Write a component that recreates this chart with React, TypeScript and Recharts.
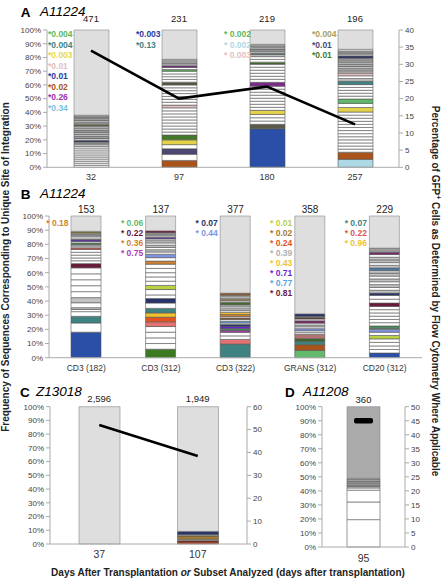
import React from 'react'
import { ComposedChart, Bar, Line, XAxis, YAxis, Cell } from 'recharts'

type Seg = [number, string]
type Note = [string, string]

const FONT = '"Liberation Sans", Arial, Helvetica, sans-serif'

// colour of each integration-site clone
const CLONE: Record<string, string> = {
  w: '#ffffff', G: '#dedede', Gd: '#ababab', g1: '#c2c2c2', g2: '#9c9c9c', g3: '#8c8c8c', g4: '#b0b0b0',
  nv: '#27336a', nv2: '#2a3a9a', og: '#5b6b33', br: '#a9541a', sl: '#4c4873', ye: '#e3d34a', gr: '#437a2a',
  pk: '#e2c0c0', ol: '#55573c', lg: '#5cb85c', pu: '#7b2a8a', bl: '#2b4fa6', dk: '#5b5a48', dg: '#3f6a2a',
  tl: '#3f8282', lb: '#add8e6', lb2: '#7ec0e0', lg2: '#62b86c', mr: '#6a1a3a', rd: '#c65a50', rd2: '#e05555',
  gm: '#4d8d5d', vi: '#5a3a9a', ok: '#8a7a2a', dg2: '#3b7a20', sa: '#e57373', or: '#e4531e', yo: '#f2c230',
  yg: '#bcd043', ob: '#d3822f', pw: '#8192e2', mg: '#b03ab0', mg2: '#a030b0', vi2: '#6a2ad0', sk: '#5aa2e2',
  bw: '#8a5a30', kh: '#a08860', kh2: '#a8a060', pb: '#b37474', bd: '#5a3a2a', mp: '#7a2a6a', st: '#4a82b2',
  rr: '#c43512', dr: '#7e2410', kt: '#a37a32', ye2: '#e8d84a',
}

const PCT_TICKS = [0, 10, 20, 30, 40, 50, 60, 70, 80, 90, 100]

// A – A11224, days after transplantation
const A_DAYS = ['32', '97', '180', '257']
const A_TOTALS = ['471', '231', '219', '196']
const A_GFP = [34, 20, 23.5, 12.5]
const A_GFP_TICKS = [0, 5, 10, 15, 20, 25, 30, 35, 40]
const A_SEGS: Seg[][] = [
  [[1.5, 'w'], [1.5, 'w'], [1.5, 'w'], [1.5, 'w'], [1.5, 'w'], [1.5, 'w'], [1.5, 'w'], [1.5, 'w'], [1.5, 'w'], [1.5, 'w'],
    [2, 'g1'], [1.5, 'g2'], [1, 'nv'], [1.5, 'g1'], [1.5, 'g2'], [1.5, 'g1'], [1.5, 'g1'], [1.5, 'g2'], [1.5, 'g1'], [1.5, 'g1'],
    [1, 'og'], [1.5, 'g2'], [1.5, 'g1'], [2, 'g2'], [2, 'g3']],
  [[5, 'br'], [4.5, 'w'], [4, 'sl'], [3, 'w'], [3.5, 'ye'], [3.5, 'gr'],
    [2.2, 'w'], [2.2, 'w'], [2.2, 'w'], [2.2, 'w'], [2.2, 'w'], [2.2, 'w'], [2.2, 'w'], [2.2, 'w'], [2.2, 'w'],
    [2, 'pk'], [2.1, 'w'], [2.1, 'w'], [2.1, 'w'], [2.1, 'w'], [2.1, 'w'], [2.1, 'w'], [2.1, 'w'],
    [2, 'ol'], [2, 'w'], [2, 'w'], [2, 'w'], [2, 'w'], [1.2, 'lg'], [1.5, 'w'], [1.2, 'pu'], [1.5, 'g1'], [3.3, 'g2']],
  [[28, 'bl'], [3.3, 'dk'], [2.4, 'w'], [2.4, 'w'], [2.4, 'w'], [3, 'ye'],
    [2.2, 'w'], [2.2, 'w'], [2.2, 'w'], [2.2, 'w'], [2.2, 'w'], [2.2, 'w'], [2.2, 'w'], [2.2, 'w'],
    [2.8, 'pu'], [2.2, 'w'], [2.2, 'w'], [2.2, 'w'], [2.2, 'w'], [2.2, 'w'], [2.2, 'w'],
    [1.5, 'dg'], [2, 'w'], [2, 'w'], [1.5, 'g1'], [1, 'tl'], [1.5, 'g1'], [1.5, 'g2'], [1.5, 'g1'], [2, 'g2']],
  [[5.8, 'lb'], [5.2, 'br'],
    [2.25, 'w'], [2.25, 'w'], [2.25, 'w'], [2.25, 'w'], [2.25, 'w'], [2.25, 'w'], [2.25, 'w'], [2.25, 'w'], [2.25, 'w'],
    [2.25, 'w'], [2.25, 'w'], [2.25, 'w'], [2.25, 'w'],
    [3.3, 'ye'], [3, 'w'], [3.2, 'lg2'], [2.1, 'w'], [2.1, 'w'], [2.1, 'w'], [2.1, 'w'], [2.1, 'w'],
    [2.4, 'tl'], [2, 'g1'], [2, 'w'], [2, 'pk'], [1.6, 'g1'], [1.6, 'g4'], [1.6, 'g1'], [1.6, 'g4'], [1.6, 'g1'], [1.6, 'g4'],
    [1.25, 'g1'], [1.5, 'nv'], [1.6, 'g1'], [1.6, 'g2'], [1.8, 'g1']],
]
const A_NOTES: Note[][] = [
  [['*0.004', 'lg'], ['*0.004', 'tl'], ['*0.003', 'ye2'], ['*0.01', 'pk'], ['*0.01', 'nv2'], ['*0.02', 'br'], ['*0.26', 'mg2'], ['*0.34', 'lb2']],
  [['*0.003', 'nv2'], ['*0.13', 'tl']],
  [['* 0.002', 'lg'], ['* 0.002', 'lb'], ['* 0.003', 'pk']],
  [['*0.004', 'kh2'], ['*0.01', 'sl'], ['*0.01', 'gr']],
]

// B – A11224, sorted subsets
const B_SUBSETS = ['CD3 (182)', 'CD3 (312)', 'CD3 (322)', 'GRANS (312)', 'CD20 (312)']
const B_TOTALS = ['153', '137', '377', '358', '229']
const B_SEGS: Seg[][] = [
  [[18, 'bl'], [6.5, 'w'], [4.7, 'tl'], [3.3, 'w'], [1.5, 'w'], [1.3, 'g1'], [3.5, 'w'], [3.6, 'g1'],
    [4.2, 'w'], [4.2, 'w'], [4.2, 'w'], [4.2, 'w'], [4.2, 'w'], [3, 'mr'], [2, 'w'], [2, 'w'], [2, 'w'], [2, 'w'], [2, 'w'],
    [1.2, 'rd'], [1.2, 'w'], [1, 'g1'], [1.2, 'gm'], [1, 'w'], [1.5, 'vi'], [2.4, 'g1'], [1.5, 'g2'], [0.6, 'w'], [1.2, 'ok']],
  [[6, 'dg2'], [4, 'w'], [4, 'w'], [4, 'w'], [4, 'w'], [3.3, 'sa'], [3.3, 'or'], [3, 'yo'], [3.2, 'tl'], [3.8, 'w'],
    [3.2, 'nv'], [2.5, 'w'], [3.8, 'w'], [2.9, 'yg'], [3, 'w'], [3, 'w'], [3, 'w'], [3, 'w'], [3, 'w'], [2.2, 'ob'], [2.4, 'w'],
    [2.4, 'pw'], [1.6, 'w'], [1.6, 'g1'], [1.6, 'w'], [1.6, 'g1'], [1.6, 'w'], [1.6, 'g1'], [1.2, 'w'], [1.2, 'vi'],
    [1.6, 'g1'], [1.6, 'g2'], [1.4, 'mr']],
  [[9.6, 'tl'], [3.3, 'sa'], [2.5, 'w'], [2.5, 'w'], [1.3, 'mg'], [1.3, 'gm'], [1.5, 'vi2'], [1.5, 'nv'], [1, 'w'],
    [1.2, 'sk'], [1.2, 'w'], [1.2, 'bw'], [1, 'w'], [1.4, 'ob'], [1.5, 'yo'], [1.2, 'w'], [1.4, 'g1'], [1.3, 'w'],
    [1.4, 'g1'], [1.8, 'dg'], [1, 'w'], [1.5, 'kh'], [1.5, 'g1'], [0.9, 'w'], [1.6, 'bw']],
  [[5.2, 'lg2'], [4, 'br'], [2.3, 'tl'], [1.9, 'dg'], [3.1, 'pb'], [1.2, 'w'], [1.3, 'w'], [1.5, 'pw'], [1.3, 'w'],
    [1.3, 'g1'], [1.3, 'w'], [1.7, 'mp'], [1.2, 'w'], [1.3, 'bd'], [0.6, 'w'], [1.8, 'nv']],
  [[3.3, 'bl'], [2.5, 'w'], [2.5, 'w'], [2.5, 'w'], [2.5, 'w'], [2.4, 'yg'], [2.3, 'w'], [2, 'pw'], [0.5, 'w'], [1.9, 'gm'],
    [2.3, 'w'], [2.3, 'w'], [2.3, 'w'], [2.3, 'w'], [2.3, 'w'], [2.3, 'w'], [2.4, 'mr'], [2.7, 'w'], [2.7, 'w'], [1.6, 'nv'],
    [2, 'g1'], [2, 'w'], [2, 'g1'], [2, 'w'], [2, 'g1'], [2, 'w'], [2, 'g1'], [2, 'g1'], [1.7, 'st'],
    [1.9, 'g1'], [1.9, 'w'], [1.9, 'g1'], [1.9, 'g1'], [1.9, 'w'], [1.6, 'mp'], [3, 'g2']],
]
const B_NOTES: Note[][] = [
  [['* 0.18', 'ob']],
  [['* 0.06', 'lg2'], ['* 0.22', 'mr'], ['* 0.36', 'ob'], ['* 0.75', 'mg']],
  [['* 0.07', 'nv'], ['* 0.44', 'pw']],
  [['* 0.01', 'yg'], ['* 0.02', 'kt'], ['* 0.24', 'or'], ['* 0.39', 'g4'], ['* 0.43', 'yo'], ['* 0.71', 'vi2'], ['* 0.77', 'sk'], ['* 0.81', 'mr']],
  [['* 0.07', 'tl'], ['* 0.22', 'rd2'], ['* 0.96', 'yo']],
]

// C – Z13018
const C_DAYS = ['37', '107']
const C_TOTALS = ['2,596', '1,949']
const C_GFP = [52, 38.5]
const C_GFP_TICKS = [0, 10, 20, 30, 40, 50, 60]
const C_SEGS: Seg[][] = [
  [],
  [[1.5, 'rr'], [1, 'dr'], [0.9, 'w'], [2.4, 'kt'], [1.2, 'g2'], [2.2, 'nv']],
]

// D – A11208
const D_DAYS = ['95']
const D_TOTALS = ['360']
const D_GFP = [45]
const D_GFP_TICKS = [0, 5, 10, 15, 20, 25, 30, 35, 40, 45, 50]
const D_SEGS: Seg[][] = [
  [[19.5, 'w'], [12.6, 'w'], [8.4, 'w'], [1.6, 'w'], [1.2, 'g1'], [1, 'g2'], [1.2, 'g1'], [1.2, 'g2'], [1.2, 'g1'], [1.1, 'g2']],
]

interface PanelProps {
  cats: string[]; totals: string[]; segs: Seg[][]; cap?: string; notes?: Note[][]
  gfp?: number[]; gfpTicks?: number[]; gfpDash?: boolean
  left: number; top: number; width: number; height: number
  mTop: number; mRight: number; mBottom: number; leftW: number; rightW?: number
  barSize: number; xFont: number; xGap: number; totFont: number; totGap: number
  noteDx?: number; noteDy?: number; noteStep?: number
}

const axisTick = { fontSize: 8, fill: '#444', fontFamily: FONT }

function Panel(p: PanelProps) {
  const n = Math.max(...p.segs.map(s => s.length)) + 1
  const stacks = p.segs.map(s => {
    const used = s.reduce((a, [v]) => a + v, 0)
    return [...s, [100 - used, p.cap ?? 'G'] as Seg]
  })
  const data = p.cats.map((c, j) => {
    const row: Record<string, any> = { name: c, top: 100, gfp: p.gfp?.[j] }
    for (let i = 0; i < n; i++) row['s' + i] = stacks[j][i]?.[0] ?? 0
    return row
  })

  const topDot = (d: any) => {
    const j = d.index
    return (
      <g key={'t' + j}>
        <text x={d.cx} y={d.cy - p.totGap} textAnchor="middle" fontSize={p.totFont} fill="#222" fontFamily={FONT}>{p.totals[j]}</text>
        {(p.notes?.[j] ?? []).map(([t, k], i) => (
          <text key={i} x={d.cx + (p.noteDx ?? 0)} y={d.cy + (p.noteDy ?? 0) + i * (p.noteStep ?? 10)}
            fontSize={8.5} fontWeight="bold" fill={CLONE[k]} fontFamily={FONT}>{t}</text>
        ))}
      </g>
    )
  }
  const dashDot = (d: any) => (
    <rect key={'d' + d.index} x={d.cx - 9.5} y={d.cy - 2.8} width={19} height={5.6} rx={2} fill="#000" />
  )

  return (
    <div style={{ position: 'absolute', left: p.left, top: p.top }}>
      <ComposedChart width={p.width} height={p.height} data={data}
        margin={{ top: p.mTop, right: p.mRight, bottom: p.mBottom, left: 0 }}>
        <XAxis dataKey="name" height={20} tickLine={false} tickSize={0} tickMargin={p.xGap} interval={0}
          axisLine={{ stroke: '#aaa' }} tick={{ fontSize: p.xFont, fill: '#333', fontFamily: FONT }} />
        <YAxis yAxisId="l" width={p.leftW} domain={[0, 100]} ticks={PCT_TICKS} interval={0}
          tickFormatter={v => v + '%'} tickSize={4} tickMargin={2} tick={axisTick}
          axisLine={{ stroke: '#aaa' }} tickLine={{ stroke: '#aaa' }} />
        {p.gfpTicks && (
          <YAxis yAxisId="r" orientation="right" width={p.rightW} domain={[0, p.gfpTicks[p.gfpTicks.length - 1]]}
            ticks={p.gfpTicks} interval={0} tickSize={4} tickMargin={2} tick={axisTick}
            axisLine={{ stroke: '#aaa' }} tickLine={{ stroke: '#aaa' }} />
        )}
        {Array.from({ length: n }, (_, i) => (
          <Bar key={i} yAxisId="l" dataKey={'s' + i} stackId="s" barSize={p.barSize} isAnimationActive={false}
            stroke="#555" strokeWidth={0.6}>
            {stacks.map((s, j) => {
              const k = s[i]?.[1] ?? 'w'
              return <Cell key={j} fill={CLONE[k]} stroke={k === 'G' || k === 'Gd' ? '#888' : '#555'} />
            })}
          </Bar>
        ))}
        {p.gfp && (
          <Line yAxisId="r" dataKey="gfp" stroke={p.gfpDash ? 'none' : '#000'} strokeWidth={2.6}
            dot={p.gfpDash ? dashDot : false} activeDot={false} isAnimationActive={false} />
        )}
        <Line yAxisId="l" dataKey="top" stroke="none" dot={topDot} activeDot={false} isAnimationActive={false} />
      </ComposedChart>
    </div>
  )
}

export default function App() {
  return (
    <div style={{ position: 'absolute', left: 0, top: 0, width: 442, height: 581, background: '#fff', fontFamily: FONT }}>
      <Panel cats={A_DAYS} totals={A_TOTALS} segs={A_SEGS} notes={A_NOTES} gfp={A_GFP} gfpTicks={A_GFP_TICKS}
        left={0} top={0} width={442} height={195} mTop={30} mRight={0} mBottom={7.7} leftW={47} rightW={43}
        barSize={35} xFont={9} xGap={6} totFont={9.5} totGap={7.7} noteDx={-43} noteDy={7} noteStep={10.5} />
      <Panel cats={B_SUBSETS} totals={B_TOTALS} segs={B_SEGS} notes={B_NOTES}
        left={0} top={190} width={442} height={190} mTop={26} mRight={20} mBottom={2.3} leftW={49}
        barSize={30} xFont={8.5} xGap={7} totFont={10} totGap={2.7} noteDx={-40} noteDy={9.7} noteStep={10} />
      <Panel cats={C_DAYS} totals={C_TOTALS} segs={C_SEGS} gfp={C_GFP} gfpTicks={C_GFP_TICKS}
        left={0} top={385} width={277} height={181} mTop={21.7} mRight={0} mBottom={2} leftW={50} rightW={30}
        barSize={41} xFont={10.5} xGap={7} totFont={9.5} totGap={4.7} />
      <Panel cats={D_DAYS} totals={D_TOTALS} segs={D_SEGS} cap="Gd" gfp={D_GFP} gfpTicks={D_GFP_TICKS} gfpDash
        left={280} top={385} width={155} height={184} mTop={21.7} mRight={0} mBottom={2} leftW={42} rightW={30}
        barSize={33} xFont={10.5} xGap={8} totFont={9.5} totGap={4} />
      <svg width={442} height={581} style={{ position: 'absolute', left: 0, top: 0, pointerEvents: 'none' }} fontFamily={FONT}>
        <text x={20.7} y={16.7} fontSize={13.5} fontWeight="bold">A</text>
        <text x={40} y={15.5} fontSize={13.5} fontStyle="italic">A11224</text>
        <text x={20.7} y={198.5} fontSize={13.5} fontWeight="bold">B</text>
        <text x={40} y={198} fontSize={13.5} fontStyle="italic">A11224</text>
        <text x={20} y={396.7} fontSize={13.5} fontWeight="bold">C</text>
        <text x={36} y={396} fontSize={13.5} fontStyle="italic">Z13018</text>
        <text x={285} y={396.7} fontSize={13.5} fontWeight="bold">D</text>
        <text x={303} y={396} fontSize={13.5} fontStyle="italic">A11208</text>
        <text transform="translate(8.5,267) rotate(-90)" textAnchor="middle" fontSize={10} fontWeight="bold" fill="#222">
          Frequency of Sequences Corresponding to Unique Site of Integration
        </text>
        <text transform="translate(432,291) rotate(90)" textAnchor="middle" fontSize={10} fontWeight="bold" fill="#222">
          Percentage of GFP<tspan dy={-3.5} fontSize={7}>+</tspan><tspan dy={3.5}> Cells as Determined by Flow Cytometry Where Applicable</tspan>
        </text>
        <text x={228} y={576} textAnchor="middle" fontSize={10} fontWeight="bold" fill="#222">
          Days After Transplantation <tspan fontStyle="italic">or</tspan> Subset Analyzed (days after transplantation)
        </text>
      </svg>
    </div>
  )
}
